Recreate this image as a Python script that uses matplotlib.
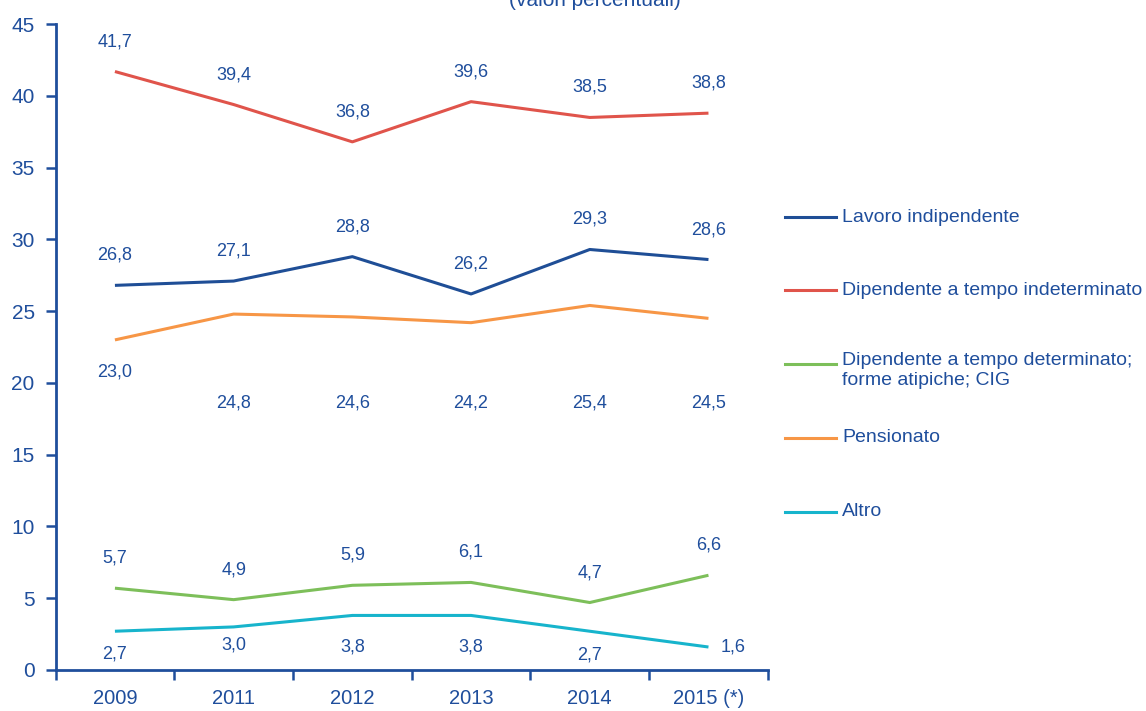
import matplotlib
matplotlib.use("Agg")
import matplotlib.pyplot as plt
from matplotlib.lines import Line2D
from matplotlib import font_manager as fm

names = {f.name for f in fm.fontManager.ttflist}
fam = ['Liberation Sans Narrow', 'Liberation Sans', 'DejaVu Sans'] if 'Liberation Sans Narrow' in names else ['Liberation Sans', 'DejaVu Sans']
plt.rcParams['font.family'] = fam

years = ["2009", "2011", "2012", "2013", "2014", "2015 (*)"]
lavoro = [26.8, 27.1, 28.8, 26.2, 29.3, 28.6]
indeterminato = [41.7, 39.4, 36.8, 39.6, 38.5, 38.8]
determinato = [5.7, 4.9, 5.9, 6.1, 4.7, 6.6]
pensionato = [23.0, 24.8, 24.6, 24.2, 25.4, 24.5]
altro = [2.7, 3.0, 3.8, 3.8, 2.7, 1.6]
series_names = ["Lavoro indipendente", "Dipendente a tempo indeterminato",
                "Dipendente a tempo determinato;\nforme atipiche; CIG",
                "Pensionato", "Altro"]

NAVY = '#1f4e9c'
colors = ['#1f4e96', '#e0544b', '#7dbf5a', '#f79646', '#17b4cc']

# label offsets in pixels (styling)
off_lav = [(0, 30)] * 6
off_ind = [(0, 30)] * 6
off_det = [(0, 30)] * 6
off_pen = [(0, -32), (0, -89), (0, -86), (0, -80), (0, -98), (0, -85)]
off_alt = [(0, -23), (0, -18), (0, -32), (0, -32), (0, -24), (25, 0)]

fig = plt.figure(figsize=(11.46, 7.11), dpi=100)
ax = fig.add_axes([0.0485, 0.0577, 0.6215, 0.9083])

x = list(range(len(years)))
data = [lavoro, indeterminato, determinato, pensionato, altro]
offs = [off_lav, off_ind, off_det, off_pen, off_alt]
for vals, c, off in zip(data, colors, offs):
    ax.plot(x, vals, color=c, lw=2.2, solid_capstyle='butt')
    for xi, v, o in zip(x, vals, off):
        ax.annotate(f"{v:.1f}".replace('.', ','), (xi, v), xytext=o,
                    textcoords='offset pixels', ha='center', va='center',
                    fontsize=13, color=NAVY)

ax.set_xlim(-0.5, 5.5)
ax.set_ylim(0, 45)
ax.set_yticks(range(0, 46, 5))
ax.set_xticks([i - 0.5 for i in range(len(years) + 1)])
ax.set_xticklabels([])
ax.set_xticks(x, minor=True)
ax.set_xticklabels(years, minor=True)
ax.tick_params(axis='x', which='minor', length=0, pad=14, labelsize=14.5, labelcolor=NAVY)
ax.tick_params(axis='x', which='major', length=7, width=1.8, color=NAVY, direction='out')
ax.tick_params(axis='y', length=7, width=1.8, color=NAVY, direction='out',
               labelsize=15, labelcolor=NAVY, pad=8)
for s in ['top', 'right']:
    ax.spines[s].set_visible(False)
for s in ['left', 'bottom']:
    ax.spines[s].set_color(NAVY)
    ax.spines[s].set_linewidth(2)

# legend (manual)
leg_y = [217, 290, 364, 438, 512]
for name, c, yp in zip(series_names, colors, leg_y):
    fy = 1 - yp / 711
    fig.add_artist(Line2D([785 / 1146, 836 / 1146], [fy, fy], color=c, lw=2.2,
                          transform=fig.transFigure))
    if '\n' in name:
        fig.text(842 / 1146, fy + 12 / 711, name, ha='left', va='top',
                 fontsize=14, color=NAVY, linespacing=1.25)
    else:
        fig.text(842 / 1146, fy, name, ha='left', va='center',
                 fontsize=14, color=NAVY)

fig.text(595 / 1146, 1.0, "(valori percentuali)", ha='center', va='center',
         fontsize=15, color=NAVY)

fig.savefig("out.png", dpi=100)
